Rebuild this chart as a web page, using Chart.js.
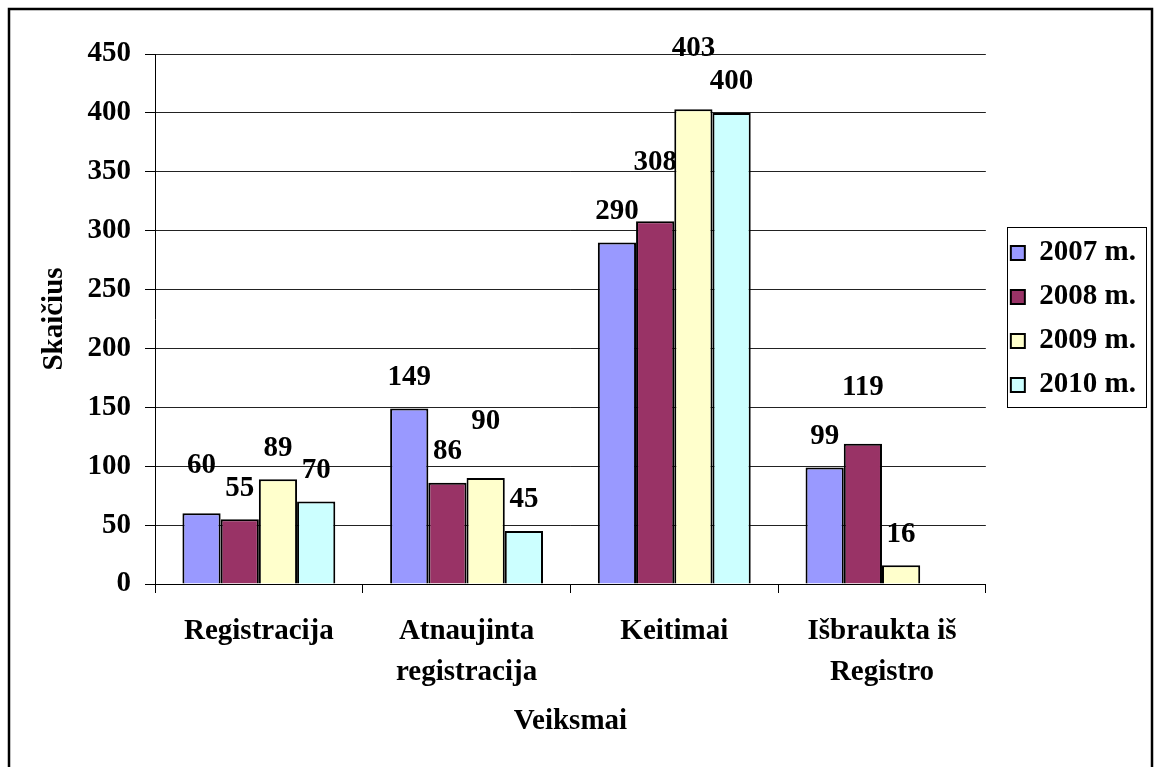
<!DOCTYPE html>
<html>
<head>
<meta charset="utf-8">
<title>Veiksmai</title>
<script src="https://cdn.jsdelivr.net/npm/chart.js@4.4.1/dist/chart.umd.min.js"></script>
<style>
  html, body { margin: 0; padding: 0; background: #fff; overflow: hidden; }
  #chart { display: block; }
</style>
</head>
<body>
<canvas id="chart" width="1155" height="767"></canvas>
<script>
const categories = ["Registracija", ["Atnaujinta", "registracija"], "Keitimai", ["Išbraukta iš", "Registro"]];
const years = ["2007 m.", "2008 m.", "2009 m.", "2010 m."];
const values2007 = [60, 149, 290, 99];
const values2008 = [55, 86, 308, 119];
const values2009 = [89, 90, 403, 16];
const values2010 = [70, 45, 400, null];
const yMin = 0;
const yMax = 450;
const yStep = 50;

const colors = ["#9999FF", "#993366", "#FFFFCC", "#CCFFFF"];
const serif = "'Liberation Serif', 'Times New Roman', serif";
const bold = (size, lineHeight) => ({ family: serif, size: size, weight: "bold", lineHeight: lineHeight || 1.2 });

// outer frame around the whole chart
const framePlugin = {
  id: "frame",
  beforeDraw(chart) {
    const ctx = chart.ctx;
    ctx.save();
    ctx.fillStyle = "#fff";
    ctx.fillRect(0, 0, chart.width, chart.height);
    ctx.strokeStyle = "#000";
    ctx.lineWidth = 2.5;
    ctx.strokeRect(9, 9, 1143, 800);
    ctx.restore();
  }
};

// thin box drawn round the legend entries
const legendBoxPlugin = {
  id: "legendBox",
  afterDraw(chart) {
    const legend = chart.legend;
    const boxes = legend.legendHitBoxes;
    if (!boxes || !boxes.length) return;
    const first = boxes[0];
    const last = boxes[boxes.length - 1];
    const ctx = chart.ctx;
    ctx.save();
    ctx.strokeStyle = "#000";
    ctx.lineWidth = 1;
    const left = Math.round(first.left - 4) + 0.5;
    const top = Math.round(first.top - 12) + 0.5;
    const right = Math.round(legend.right) + 0.5;
    const bottom = Math.round(last.top + last.height + 7) + 0.5;
    ctx.strokeRect(left, top, right - left, bottom - top);
    ctx.restore();
  }
};

// value written above each bar; some labels sit higher so they don't collide
const valueLabelPlugin = {
  id: "valueLabels",
  afterDatasetsDraw(chart, args, opts) {
    const ctx = chart.ctx;
    ctx.save();
    ctx.font = "bold 29px " + serif;
    ctx.fillStyle = "#000";
    ctx.textAlign = "center";
    ctx.textBaseline = "middle";
    chart.data.datasets.forEach((ds, di) => {
      chart.getDatasetMeta(di).data.forEach((bar, i) => {
        const v = ds.data[i];
        if (v === null || v === undefined) return;
        const lift = opts.lift[di + ":" + i] || 0;
        ctx.fillText(String(v), bar.x, bar.y - opts.offset - lift);
      });
    });
    ctx.restore();
  }
};

const datasets = [values2007, values2008, values2009, values2010].map((vals, i) => ({
  label: years[i],
  data: vals,
  backgroundColor: colors[i],
  borderColor: "#000",
  borderWidth: 2
}));

new Chart(document.getElementById("chart"), {
  type: "bar",
  data: { labels: categories, datasets: datasets },
  plugins: [framePlugin, legendBoxPlugin, valueLabelPlugin],
  options: {
    responsive: false,
    animation: false,
    layout: { padding: { left: 0, top: 54, right: 9, bottom: 0 } },
    datasets: {
      bar: { categoryPercentage: 0.736, barPercentage: 1 }
    },
    scales: {
      x: {
        grid: { display: true, drawOnChartArea: false, color: "#000", tickLength: 9, offset: true },
        border: { color: "#000", width: 1 },
        ticks: { color: "#000", font: bold(29, 1.38), padding: 19, maxRotation: 0, autoSkip: false },
        title: { display: true, text: "Veiksmai", color: "#000", font: bold(29), padding: { top: 0, bottom: 27.6 } },
        afterFit(scale) { scale.height = 183; }
      },
      y: {
        min: yMin,
        max: yMax,
        grid: { color: "#222", lineWidth: 1, tickColor: "#000", tickLength: 10 },
        border: { color: "#000", width: 1 },
        ticks: { stepSize: yStep, color: "#000", font: bold(29), padding: 14 },
        title: { display: true, text: "Skaičius", color: "#000", font: bold(29), padding: { top: 37.6, bottom: 0 } },
        afterFit(scale) { scale.width = 155; }
      },
      // empty strip keeping a gap between the plot and the legend
      gap: {
        type: "linear",
        position: "right",
        display: true,
        grid: { display: false },
        border: { display: false },
        ticks: { display: false },
        afterFit(scale) { scale.width = 10; }
      }
    },
    plugins: {
      legend: {
        position: "right",
        fullSize: false,
        labels: {
          color: "#000",
          font: bold(29),
          boxWidth: 14,
          boxHeight: 14,
          padding: 15
        }
      },
      tooltip: { enabled: false },
      valueLabels: {
        offset: 31,
        lift: { "0:0": 17, "2:1": 25, "1:2": 28, "2:2": 30, "1:3": 25 }
      }
    }
  }
});
</script>
</body>
</html>
